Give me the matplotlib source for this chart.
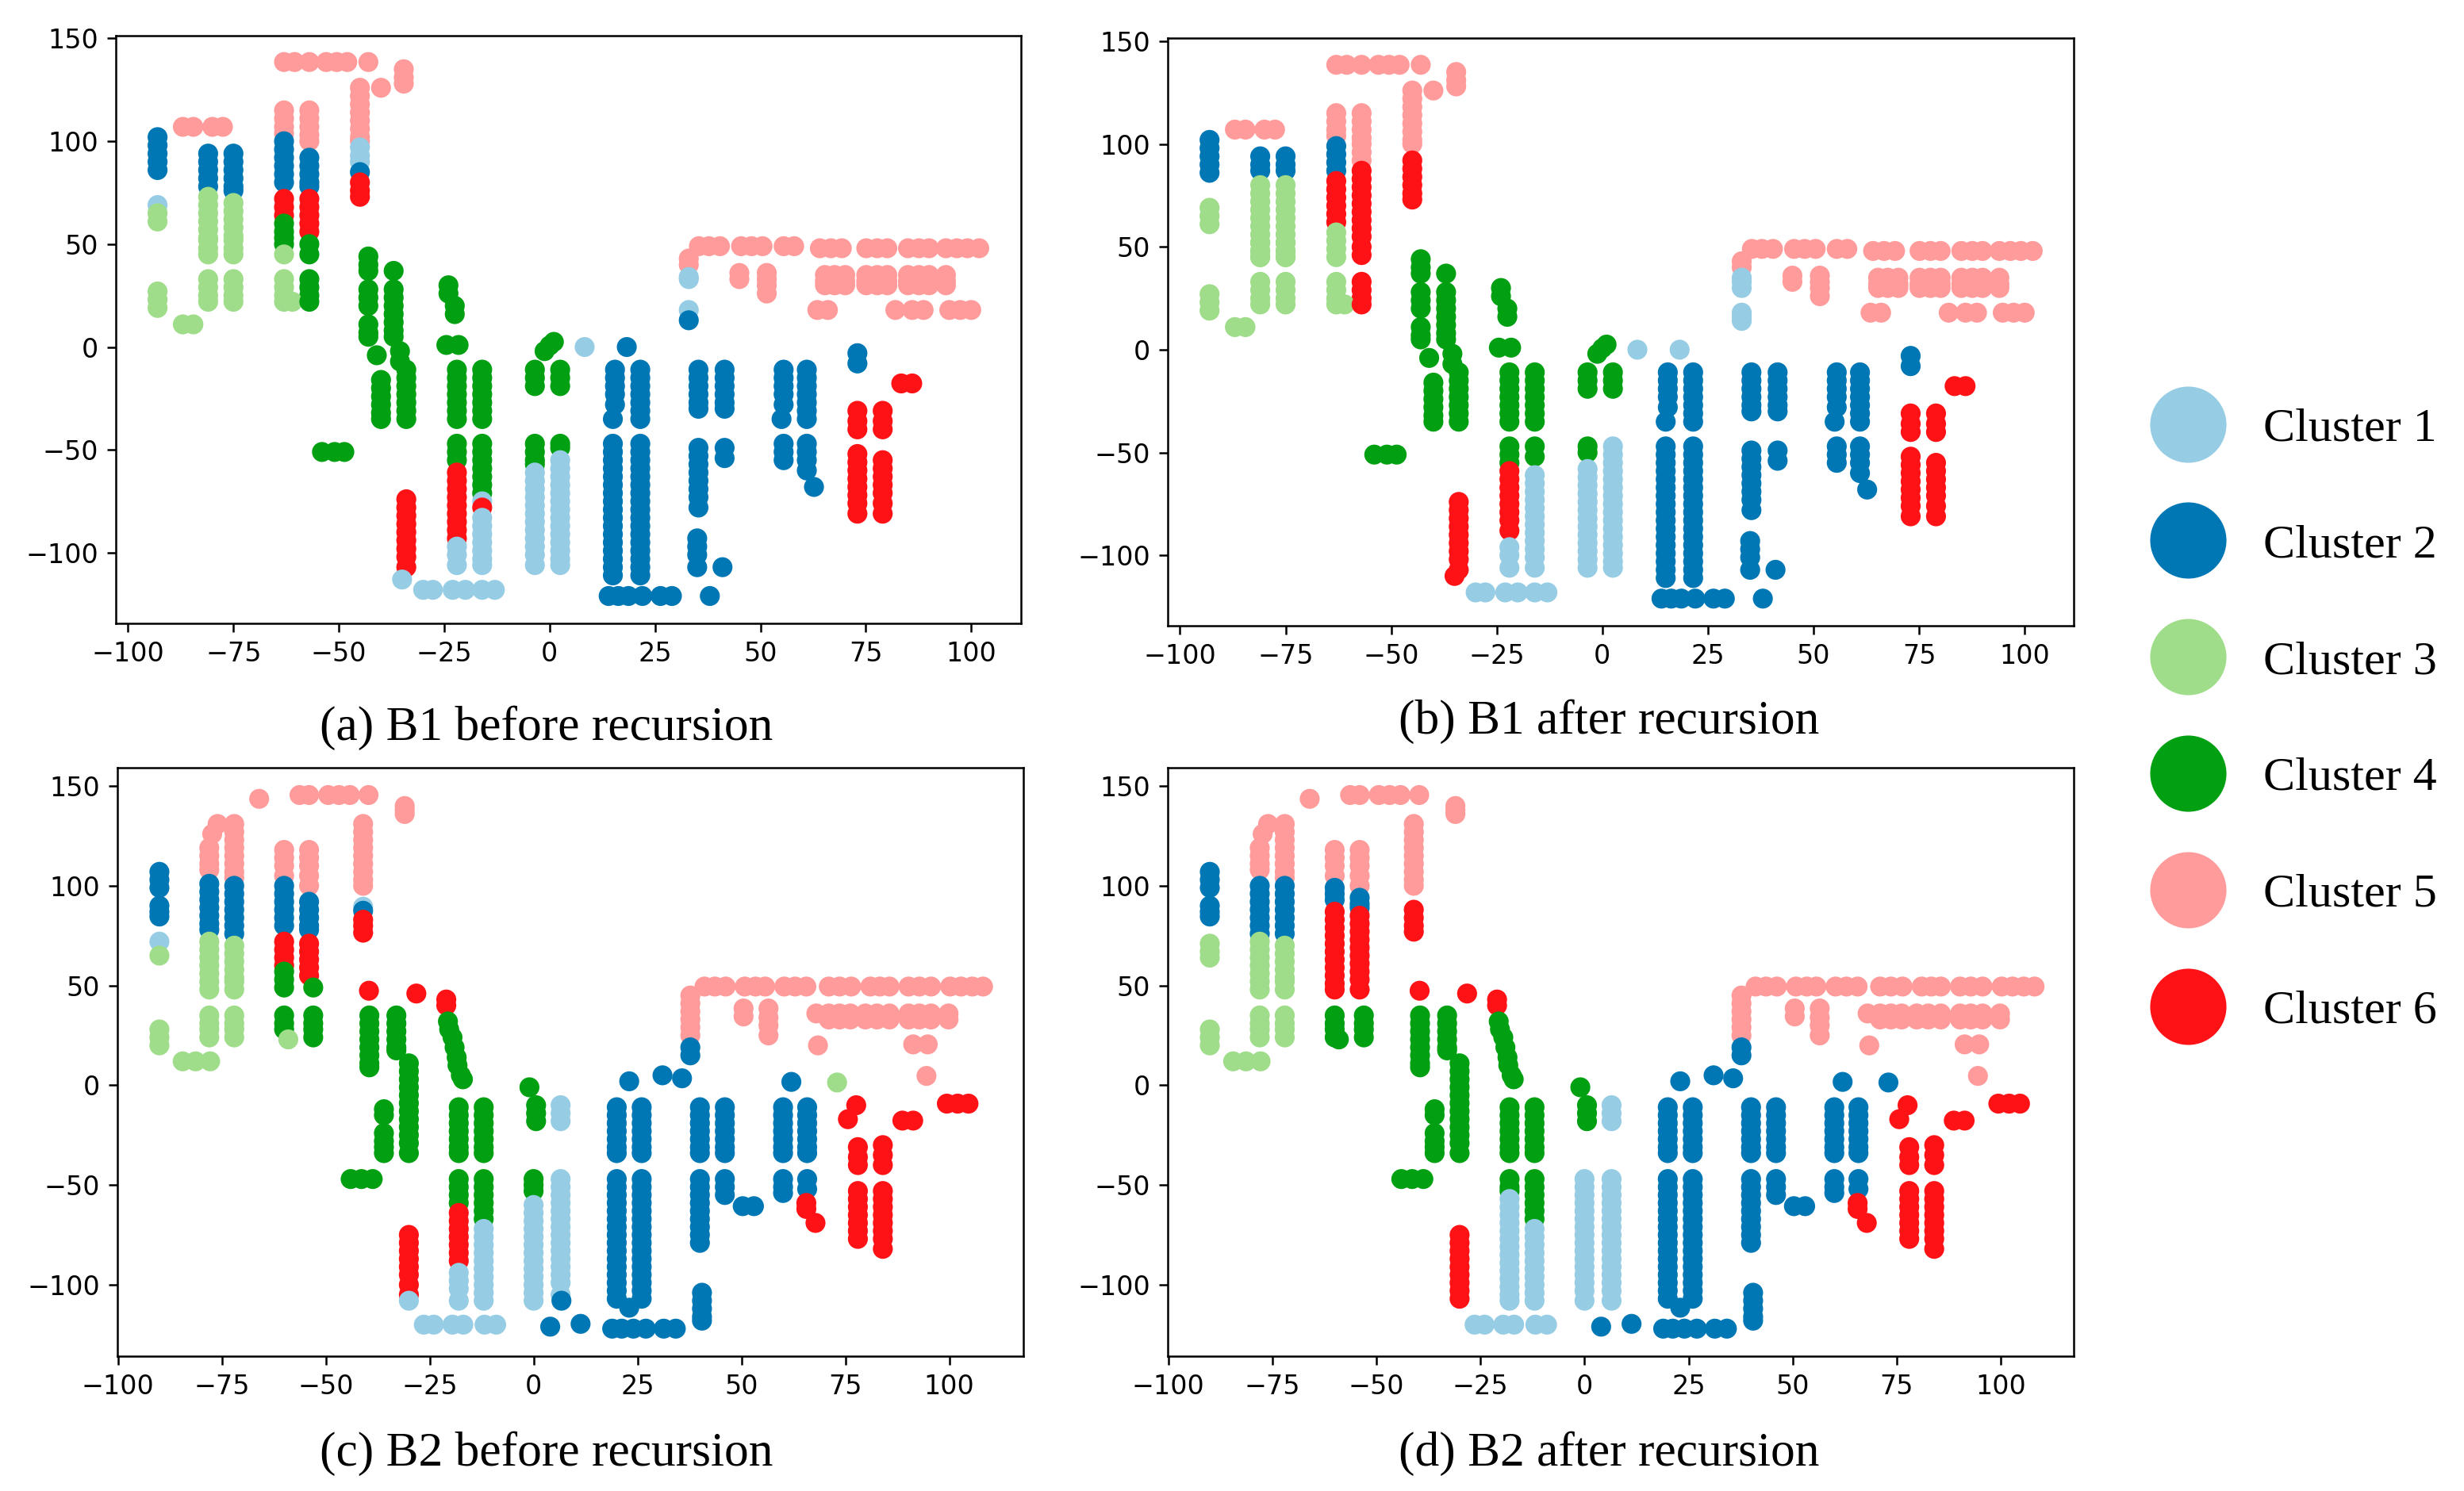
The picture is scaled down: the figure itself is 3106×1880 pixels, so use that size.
import numpy as np
import matplotlib
matplotlib.use('Agg')
import matplotlib.pyplot as plt
from matplotlib.lines import Line2D

cluster_names = ['Cluster 1', 'Cluster 2', 'Cluster 3', 'Cluster 4', 'Cluster 5', 'Cluster 6']
cluster_colors = ['#96cde4', '#0077b5', '#9fdd8a', '#00a012', '#ff9b9b', '#ff1216']
captions = ['(a) B1 before recursion', '(b) B1 after recursion',
            '(c) B2 before recursion', '(d) B2 after recursion']
x_ticks = [-100, -75, -50, -25, 0, 25, 50, 75, 100]
y_ticks = [-100, -50, 0, 50, 100, 150]

# runs of y values that repeat in many columns, B1
b1_up = [-11, -15, -19, -23, -27, -31, -35]
b1_up_s = [-11, -15, -19]
b1_low = [-47, -51, -55, -59, -63, -67, -71, -75, -79, -83, -87, -91, -95, -99, -103, -107, -111]
b1_pale = [-61, -65, -69, -73, -77, -81, -85, -89, -93, -97, -101, -106]
b1_mid_hi = [94, 90, 86, 82, 78]
b1_g_lo = [33, 29, 25, 22]
b1_block = [35, 32, 30]

# points that are in both (a) and (b)
b1_blue_x = [-93, 15.5, 15, 15, 21.5, 21.5, 14, 16.3, 18.7, 22, 26.3, 29, 38, 35.3, 35.3, 35, 41.5, 41.5, 41,
             55.5, 55, 55.5, 61, 61, 62.7, 73]
b1_blue_y = [[102, 98, 94, 90, 86], [-11, -15, -19, -23, -28], -35, b1_low, b1_up, b1_low, -121, -121, -121,
             -121, -121, -121, -121, [-11, -15, -19, -23, -27, -30],
             [-49, -53, -57, -61, -65, -69, -73, -78], [-93, -97, -101, -107], [-11, -15, -19, -23, -27, -30], [-49, -54],
             -107, [-11, -15, -19, -23, -28], -35, [-47, -51, -55], b1_up, [-47, -51, -55, -60], -68, [-3, -8]]
b1_pale_x = [-30, -27.7, -23, -20, -16, -13]
b1_pale_y = [-118, -118, -118, -118, -118, -118]
b1_lgreen_x = [-93, -87, -84.5, -81, -81, -75, -75, -63, -61]
b1_lgreen_y = [[27, 23, 19], 11, 11, b1_g_lo, [52, 48, 45], b1_g_lo, [52, 48, 45], b1_g_lo, 22]
b1_green_x = [-43, -43, -43, -41, -37, -37, -35.5, -34, -40, -54, -51, -48.7, -24, -22.5, -24.5, -21.6, -22, -16,
              -3.5, 2.5, -1.2, 0, 1]
b1_green_y = [[44, 40, 37], [28, 24, 20], [11, 7, 5], -4, 37, [28, 24, 20, 16, 12, 8, 5], [-2, -7], b1_up,
              [-16, -20, -24, -28, -32, -35], -51, -51, -51, [30, 26], [20, 16], 1, 1, b1_up, b1_up,
              b1_up_s, b1_up_s, -2, 0.7, 2.5]
b1_pink_x = [-87, -84.5, -80, -77.5, -63, -60.5, -57, -53, -50.5, -48, -43, -40, -34.6, -63, -57, -45, 33,
             35.4, 37.8, 40.4, 45.4, 47.9, 50.5, 55.5, 58, 64.1, 66.7, 69.3, 75.1, 77.7, 80.1, 85, 87.6, 90,
             94, 96.6, 99.1, 101.9, 45, 51.5,
             65.3, 67.6, 70.1, 75.1, 77.7, 80.1, 85, 87.6, 90, 94,
             63.5, 66, 82, 86, 88.7, 94.8, 97.4, 100]
b1_pink_y = [107, 107, 107, 107, 138.5, 138.5, 138.5, 138.5, 138.5, 138.5, 138.5, 126, [135, 131, 128],
             [115, 111, 107, 104], [115, 111, 107, 103, 100],
             [126, 122, 118, 114, 110, 106, 102, 100], [43, 40],
             49, 49, 49, 49, 49, 49, 49, 49, 48, 48, 48, 48, 48, 48, 48, 48, 48,
             48, 48, 48, 48, [36, 33], [36, 33, 30, 26],
             b1_block, b1_block, b1_block, b1_block, b1_block, b1_block, b1_block, b1_block, b1_block, b1_block,
             18, 18, 18, 18, 18, 18, 18, 18]
b1_red_x = [83.4, 86, 73, 73, 79, 79, -34]
b1_red_y = [-17.7, -17.7, [-31, -36, -40], [-52, -56, -60, -64, -68, -72, -76, -81],
            [-31, -36, -40], [-55, -59, -63, -67, -71, -76, -81], [-74, -78, -82, -86, -90, -94, -98, -102, -107]]

# (a) only
a_pale_x = [-93, -45, -35, -22, -16, -3.5, 2.5, 8.3, 33, 33]
a_pale_y = [69, [97, 93, 90], -113, [-97, -101, -106], [-75, -83, -87, -91, -95, -99, -103, -106], b1_pale,
            [-55, -59, -63, -67, -71, -75, -79, -83, -87, -91, -95, -99, -103, -106], 0, [34, 33], 18]
a_blue_x = [-81, -75, -63, -57, -45, 33, 18.3]
a_blue_y = [b1_mid_hi, [94, 90, 86, 82, 78, 76], [100, 96, 92, 88, 84, 80], [92, 88, 84, 80, 78], 85, 13, 0]
a_lgreen_x = [-93, -81, -75, -63]
a_lgreen_y = [[65, 61], [73, 69, 65, 61, 57, 53], [70, 66, 62, 58, 54], 45]
a_green_x = [-63, -57, -57, -22, -16, -3.5, 2.5]
a_green_y = [[60, 56, 53, 50], [50, 45], b1_g_lo, [-47, -51, -55], [-47, -51, -55, -59, -63, -67, -71],
             [-47, -51, -55, -57], [-47, -49]]
a_red_x = [-63, -57, -45, -22, -16]
a_red_y = [[72, 68, 64], [72, 68, 64, 60, 56], [80, 76, 73], [-61, -65, -69, -73, -77, -81, -85, -89, -93], -78]

# (b) only
b_pale_x = [-22, -16, -3.5, 2.5, 8.3, 18.3, 33, 33]
b_pale_y = [[-96, -100, -106], b1_pale, [-58, -62, -66, -70, -74, -78, -82, -86, -90, -94, -98, -102, -106],
            [-47, -51, -55, -59, -63, -67, -71, -75, -79, -83, -87, -91, -95, -99, -103, -106], 0, 0,
            [35, 33, 30], [18, 16, 14]]
b_blue_x = [-81, -75, -63]
b_blue_y = [[94, 90, 87], [94, 90, 87], [99, 95, 91, 87]]
b_lgreen_x = [-93, -81, -75, -63]
b_lgreen_y = [[69, 65, 61], [80, 76, 72, 68, 64, 60, 56, 52, 48, 45], [80, 76, 72, 68, 64, 60, 56, 52, 48, 45],
              [57, 53, 49, 45]]
b_green_x = [-22, -16, -3.5]
b_green_y = [[-47, -51, -55], [-47, -52], [-47, -50]]
b_pink_x = [-57]
b_pink_y = [[96, 92]]
b_red_x = [-35, -63, -57, -57, -45, -22]
b_red_y = [-110, [82, 78, 74, 70, 66, 62], [87, 83, 79, 75, 71, 67, 63, 59, 55, 50, 46], b1_g_lo,
           [92, 88, 84, 80, 76, 73], [-59, -63, -67, -71, -75, -79, -83, -88]]

# runs of y values that repeat in many columns, B2
b2_up = [-11, -15, -19, -23, -27, -31, -34]
b2_up_s = [-10, -14, -18]
b2_low = [-47, -51, -55, -59, -63, -67, -71, -75, -79, -83, -87, -91, -95, -99, -103, -107]
b2_g_lo = [35, 31, 28, 24]
b2_block = [36, 33]

# points that are in both (c) and (d)
b2_blue_x = [-90, -90, 20, 20, 26, 26, 23, 23, 31, 35.7, 18.9, 21.2, 24, 27, 31.3, 34.2, 37.7, 40, 40, 40.5, 46, 46,
             50.3, 53, 60, 60, 62, 65.8, 65.8, 4, 11.3]
b2_blue_y = [[107, 103, 99], [90, 87, 84.6], b2_up, b2_low, b2_up, b2_low, -111.5, 2, 5, 3.5,
             -122, -122, -122, -122, -122, -122, [19, 15],
             b2_up, [-47, -51, -55, -59, -63, -67, -71, -75, -79], [-104, -108, -112, -116, -118],
             b2_up, [-47, -51, -55], -60.6, -60.6, b2_up, [-47, -51, -54], 1.7, b2_up, [-47, -52], -121, -119.6]
b2_pale_x = [-26.4, -24, -19.5, -16.9, -11.8, -9, 6.5]
b2_pale_y = [-120, -120, -120, -120, -120, -120, b2_up_s]
b2_lgreen_x = [-90, -84.4, -81.3, -77.8, -78, -78, -72, -72]
b2_lgreen_y = [[28, 24, 20], 12, 12, 12, [52, 48], b2_g_lo, [52, 48], b2_g_lo]
b2_green_x = [-39.5, -33, -30, -36, -36, -44, -41.4, -38.7, -20.6, -20.3, -19.5, -19, -18.5, -18.3, -17.5, -17,
              -18, -12, -12, -1, 0.6]
b2_green_y = [[35, 31, 27, 23, 19, 15, 11, 9], [35, 31, 27, 23, 19, 17.5],
              [11, 7, 3, -1, -5, -9, -13, -17, -21, -25, -29, -34], [-12, -15], [-24, -28, -31, -34],
              -47, -47, -47, 32, 28, 24, 19, 14, 10, 5, 3, b2_up, b2_up, [-47, -51, -55, -59, -63, -67], -1, b2_up_s]
b2_pink_x = [-66, -56.3, -54, -49.4, -46.8, -44.2, -39.7, -31, -76, -77.3, -78, -72, -60, -54, -41, 37.7,
             41.1, 43.6, 46.2, 50.8, 53.4, 55.7, 60.3, 62.9, 65.6, 71, 73.6, 76.4, 81, 83.3, 85.6, 90.2, 92.8, 95.6,
             100.2, 102.8, 105.5, 108.1, 50.5, 56.5,
             68, 71, 73.6, 76.2, 79.8, 82.6, 85.6, 90.2, 92.8, 95.6, 99.8,
             68.4, 91.3, 94.8, 94.5]
b2_pink_y = [143.6, 145.5, 145.5, 145.5, 145.5, 145.5, 145.5, [140, 138, 136], 131, 126, [119, 115, 111, 108],
             [131, 127, 123, 119, 115, 111, 107, 104], [118, 114, 110, 105], [118, 114, 110, 105, 100],
             [131, 127, 123, 119, 115, 111, 107, 103, 100], [45, 41, 37, 33, 29, 25],
             49.5, 49.5, 49.5, 49.5, 49.5, 49.5, 49.5, 49.5, 49.5, 49.5, 49.5, 49.5, 49.5, 49.5, 49.5, 49.5, 49.5, 49.5,
             49.5, 49.5, 49.5, 49.5, [38.5, 34.5], [38.5, 34, 30, 25],
             36, b2_block, b2_block, b2_block, b2_block, b2_block, b2_block, b2_block, b2_block, b2_block, b2_block,
             20, 20.5, 20.5, 4.7]
b2_red_x = [-39.6, -28.2, -21, 77.6, 75.6, 78, 78, 84, 84, 88.7, 91.3, 99.4, 102, 104.6, 65.6, 67.8]
b2_red_y = [47.4, 46, [43, 40], -10, -17, [-31, -36, -40], [-53, -57, -61, -65, -69, -73, -77], [-30, -35, -40],
            [-53, -57, -61, -65, -69, -73, -77, -82], -17.7, -17.7, -9.2, -9.2, -9.2, [-59, -62], -69]

# (c) only
c_pale_x = [-90, -41, -30, -18, -12, 0, 6.5]
c_pale_y = [72, 89.5, -108, [-94, -98, -102, -108], [-72, -76, -80, -84, -88, -92, -96, -100, -104, -108],
            [-60, -64, -68, -72, -76, -80, -84, -88, -92, -96, -100, -104, -108],
            [-47, -51, -55, -59, -63, -67, -71, -75, -79, -83, -87, -91, -95, -99, -105]]
c_blue_x = [-78, -72, -60, -54, -41, 6.7]
c_blue_y = [[101, 97, 93, 89, 85, 81, 78], [100, 96, 92, 88, 84, 80, 76], [100, 96, 92, 88, 84, 80],
            [92, 88, 84, 80, 78], 87.5, -108]
c_lgreen_x = [-90, -78, -72, -59, 73]
c_lgreen_y = [65, [72, 68, 64, 60, 56], [70, 66, 62, 58, 54], 23, 1.4]
c_green_x = [-60, -60, -53, -53, -18, 0]
c_green_y = [[57, 53, 49], b2_g_lo[:3], 49, b2_g_lo, [-47, -51, -55, -59], [-47, -50, -53]]
c_red_x = [-60, -54, -41, -30, -18]
c_red_y = [[72, 68, 64, 60], [71, 67, 63, 59, 55], [83, 80, 76.5], [-75, -79, -83, -87, -91, -95, -100, -105],
           [-64, -68, -72, -76, -80, -84, -88]]

# (d) only
d_pale_x = [-18, -12, 0, 6.5]
d_pale_y = [[-57, -61, -65, -69, -73, -77, -81, -85, -89, -93, -97, -101, -105, -108],
            [-72, -76, -80, -84, -88, -92, -96, -100, -104, -108],
            [-47, -51, -55, -59, -63, -67, -71, -75, -79, -83, -87, -91, -95, -99, -103, -108],
            [-47, -51, -55, -59, -63, -67, -71, -75, -79, -83, -87, -91, -95, -99, -103, -108]]
d_blue_x = [-78, -72, -60, -54, 73]
d_blue_y = [[100, 96, 92, 88, 84, 80, 76], [100, 96, 92, 88, 84, 80, 76], [99, 96, 93], [94, 91, 89], 1.4]
d_lgreen_x = [-90, -78, -72]
d_lgreen_y = [[71, 67, 64], [72, 68, 64, 60, 56], [70, 66, 62, 58, 54]]
d_green_x = [-60, -53, -18, -59]
d_green_y = [b2_g_lo, b2_g_lo, [-47, -51, -53], 23]
d_red_x = [-60, -54, -41, -30]
d_red_y = [[87, 83, 79, 75, 71, 67, 63, 59, 55, 51, 48], [85, 81, 77, 73, 69, 65, 61, 57, 53, 48], [88, 84, 80, 77],
           [-75, -79, -83, -87, -91, -95, -99, -103, -107]]

panels = [
    [[(b1_pale_x, b1_pale_y), (a_pale_x, a_pale_y)], [(b1_blue_x, b1_blue_y), (a_blue_x, a_blue_y)],
     [(b1_lgreen_x, b1_lgreen_y), (a_lgreen_x, a_lgreen_y)], [(b1_green_x, b1_green_y), (a_green_x, a_green_y)],
     [(b1_pink_x, b1_pink_y)], [(b1_red_x, b1_red_y), (a_red_x, a_red_y)]],
    [[(b1_pale_x, b1_pale_y), (b_pale_x, b_pale_y)], [(b1_blue_x, b1_blue_y), (b_blue_x, b_blue_y)],
     [(b1_lgreen_x, b1_lgreen_y), (b_lgreen_x, b_lgreen_y)], [(b1_green_x, b1_green_y), (b_green_x, b_green_y)],
     [(b1_pink_x, b1_pink_y), (b_pink_x, b_pink_y)], [(b1_red_x, b1_red_y), (b_red_x, b_red_y)]],
    [[(b2_pale_x, b2_pale_y), (c_pale_x, c_pale_y)], [(b2_blue_x, b2_blue_y), (c_blue_x, c_blue_y)],
     [(b2_lgreen_x, b2_lgreen_y), (c_lgreen_x, c_lgreen_y)], [(b2_green_x, b2_green_y), (c_green_x, c_green_y)],
     [(b2_pink_x, b2_pink_y)], [(b2_red_x, b2_red_y), (c_red_x, c_red_y)]],
    [[(b2_pale_x, b2_pale_y), (d_pale_x, d_pale_y)], [(b2_blue_x, b2_blue_y), (d_blue_x, d_blue_y)],
     [(b2_lgreen_x, b2_lgreen_y), (d_lgreen_x, d_lgreen_y)], [(b2_green_x, b2_green_y), (d_green_x, d_green_y)],
     [(b2_pink_x, b2_pink_y)], [(b2_red_x, b2_red_y), (d_red_x, d_red_y)]],
]

W, H = 3106, 1880
# axes boxes in pixels: left, right, top, bottom
boxes = [(146, 1287, 45, 786), (1472, 2614, 48, 789), (148, 1290, 968, 1710), (1472, 2614, 968, 1710)]
limits = [((-102.9, 111.8), (-134.3, 151.3)), ((-102.9, 111.6), (-134.2, 151.5)),
          ((-100.1, 117.8), (-135.8, 159.2)), ((-100.1, 117.5), (-135.8, 159.2))]
caption_xy = [(689, 918), (2028, 910), (689, 1833), (2028, 1833)]

fig = plt.figure(figsize=(W / 200, H / 200), dpi=200)

for i in range(4):
    left, right, top, bottom = boxes[i]
    ax = fig.add_axes([left / W, 1 - bottom / H, (right - left) / W, (bottom - top) / H])
    xs, ys, cs = [], [], []
    for k, groups in enumerate(panels[i]):
        for gx, gy in groups:
            for x0, y0 in zip(gx, gy):
                for v in np.atleast_1d(y0):
                    xs.append(x0)
                    ys.append(v)
                    cs.append(cluster_colors[k])
    # lower points sit on top of higher ones
    order = np.argsort(-np.array(ys, dtype=float), kind='stable')
    ax.scatter(np.array(xs)[order], np.array(ys)[order], c=np.array(cs)[order], s=82, linewidths=0)
    ax.set_xlim(limits[i][0])
    ax.set_ylim(limits[i][1])
    ax.set_xticks(x_ticks)
    ax.set_yticks(y_ticks)
    ax.tick_params(labelsize=12, length=4, width=0.9, pad=4)
    for s in ax.spines.values():
        s.set_linewidth(0.9)
    fig.text(caption_xy[i][0] / W, 1 - caption_xy[i][1] / H, captions[i], family='Liberation Serif',
             fontsize=22.1, ha='center', va='center')

handles = [Line2D([], [], linestyle='none', marker='o', markersize=34.6, markeredgewidth=0, color=c)
           for c in cluster_colors]
fig.legend(handles, cluster_names, loc='center left', bbox_to_anchor=(2728 / W, 1 - 908 / H), frameon=False,
           prop={'family': 'Liberation Serif', 'size': 21.6}, handlelength=1, handletextpad=1.09,
           labelspacing=1.53, borderpad=0, borderaxespad=0)

fig.savefig('out.png', dpi=200, facecolor='white')
